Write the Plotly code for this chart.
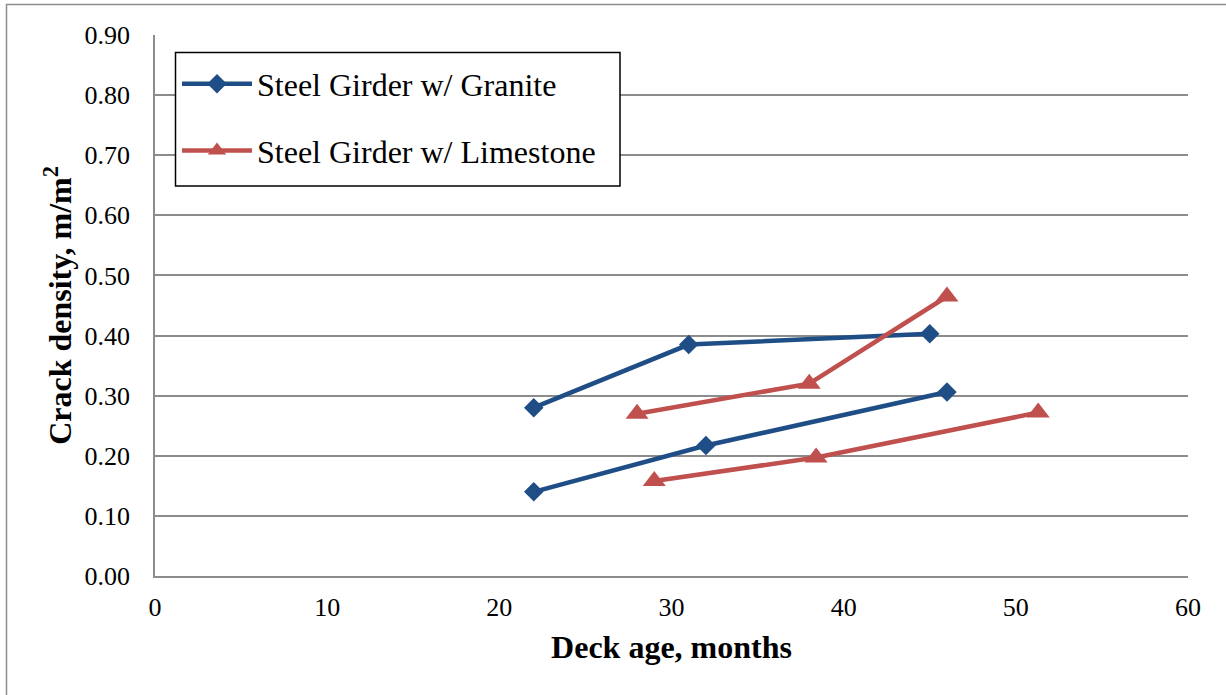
import plotly.graph_objects as go

# Deck age (months) and crack density (m/m^2), two decks per aggregate type
granite_a_age = [22, 31, 45]
granite_a_density = [0.28, 0.385, 0.403]
granite_b_age = [22, 32, 46]
granite_b_density = [0.14, 0.217, 0.306]

limestone_a_age = [28, 38, 46]
limestone_a_density = [0.27, 0.32, 0.465]
limestone_b_age = [29, 38.4, 51.3]
limestone_b_density = [0.158, 0.197, 0.272]

x_ticks = [0, 10, 20, 30, 40, 50, 60]
y_ticks = [0.0, 0.1, 0.2, 0.3, 0.4, 0.5, 0.6, 0.7, 0.8, 0.9]

BLUE = "#1F4E86"
RED = "#C0504D"
FONT = "Liberation Serif"

fig = go.Figure()

def add_series(xs, ys, name, color, symbol, size, show):
    fig.add_trace(go.Scatter(
        x=xs, y=ys, name=name, legendgroup=name, showlegend=show,
        mode="lines+markers",
        line=dict(color=color, width=4.5),
        marker=dict(symbol=symbol, size=size, color=color),
    ))

add_series(granite_a_age, granite_a_density, "Steel Girder w/ Granite", BLUE, "diamond", 15, True)
add_series(granite_b_age, granite_b_density, "Steel Girder w/ Granite", BLUE, "diamond", 15, False)
add_series(limestone_a_age, limestone_a_density, "Steel Girder w/ Limestone", RED, "triangle-up", 20, True)
add_series(limestone_b_age, limestone_b_density, "Steel Girder w/ Limestone", RED, "triangle-up", 20, False)

# pixel -> paper coordinate helpers for the plot box
L, R, T, B = 155, 1188, 35, 576
W, H = R - L, B - T
def px_x(p):
    return (p - L) / W
def px_y(p):
    return (B - p) / H

# outer chart-area frame (left and top edges visible)
fig.add_shape(type="rect", xref="paper", yref="paper",
              x0=px_x(6.5), x1=px_x(1240), y0=px_y(710), y1=px_y(4.5),
              line=dict(color="#8C8C8C", width=1.5), fillcolor="rgba(0,0,0,0)",
              layer="below")

# legend frame
fig.add_shape(type="rect", xref="paper", yref="paper",
              x0=px_x(175.5), x1=px_x(620), y0=px_y(186), y1=px_y(52.5),
              line=dict(color="black", width=1.5), fillcolor="white",
              layer="above")

fig.update_layout(
    width=1226, height=695,
    margin=dict(l=L, r=1226 - R, t=T, b=695 - B),
    paper_bgcolor="white", plot_bgcolor="white",
    font=dict(family=FONT, color="black"),
    showlegend=True,
    legend=dict(
        x=px_x(177), y=px_y(56.5), xanchor="left", yanchor="top",
        bgcolor="rgba(0,0,0,0)", borderwidth=0,
        font=dict(family=FONT, size=32, color="black"),
        traceorder="grouped", tracegroupgap=22,
        itemwidth=70,
    ),
    xaxis=dict(
        range=[0, 60], tickvals=x_ticks, ticktext=[str(v) for v in x_ticks],
        showgrid=False, zeroline=False,
        showline=True, linecolor="#8C8C8C", linewidth=1.5,
        ticks="", tickfont=dict(family=FONT, size=26), ticklabelstandoff=7,
        title=dict(text="<b>Deck age, months</b>", font=dict(family=FONT, size=32), standoff=15),
    ),
    yaxis=dict(
        range=[0, 0.9], tickvals=y_ticks, ticktext=[f"{v:.2f}" for v in y_ticks],
        showgrid=True, gridcolor="#8C8C8C", gridwidth=1.5,
        zeroline=False, showline=True, linecolor="#8C8C8C", linewidth=1.5,
        ticks="", tickfont=dict(family=FONT, size=26), ticklabelstandoff=18,
        title=dict(text="<b>Crack density, m/m<sup>2</sup></b>", font=dict(family=FONT, size=32), standoff=3),
    ),
)

fig.write_html("out.html")
